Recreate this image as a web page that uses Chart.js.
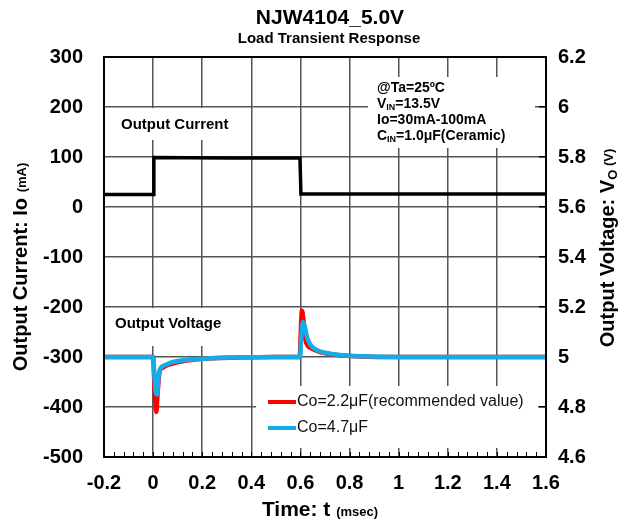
<!DOCTYPE html>
<html>
<head>
<meta charset="utf-8">
<script src="https://cdn.jsdelivr.net/npm/chart.js@4/dist/chart.umd.min.js"></script>
<style>
html, body { margin:0; padding:0; background:#fff; }
#wrap { width:630px; height:526px; }
</style>
</head>
<body>
<div id="wrap"><canvas id="graph1" width="630" height="526"></canvas></div>
<script>
// output current (mA) vs time (msec)
const currentTime = [-0.2, 0.0, 0.003, 0.3, 0.598, 0.602, 1.0, 1.6];
const currentMA = [25, 25, 99, 98, 98, 26, 26, 26];

// output voltage, Co=2.2uF
const redTime = [-0.2, 0.0, 0.004, 0.009, 0.013, 0.018, 0.026, 0.04, 0.06, 0.09, 0.13, 0.18, 0.25, 0.35, 0.5, 0.597, 0.601, 0.606, 0.612, 0.62, 0.63, 0.645, 0.665, 0.7, 0.76, 0.85, 1.0, 1.6];
const redVolt = [5.0, 5.0, 4.92, 4.82, 4.78, 4.85, 4.94, 4.958, 4.968, 4.977, 4.985, 4.991, 4.995, 4.998, 5.0, 5.0, 5.09, 5.185, 5.15, 5.07, 5.045, 5.035, 5.025, 5.015, 5.007, 5.002, 5.0, 5.0];

// output voltage, Co=4.7uF
const blueTime = [-0.2, 0.0, 0.005, 0.011, 0.016, 0.022, 0.03, 0.045, 0.065, 0.09, 0.13, 0.18, 0.25, 0.35, 0.5, 0.598, 0.603, 0.61, 0.618, 0.628, 0.64, 0.655, 0.675, 0.7, 0.76, 0.85, 1.0, 1.6];
const blueVolt = [5.0, 5.0, 4.93, 4.86, 4.85, 4.92, 4.955, 4.966, 4.975, 4.982, 4.988, 4.992, 4.996, 4.998, 5.0, 5.0, 5.07, 5.14, 5.12, 5.075, 5.05, 5.035, 5.024, 5.017, 5.008, 5.003, 5.0, 5.0];

const xTickLabels = ['-0.2', '0', '0.2', '0.4', '0.6', '0.8', '1', '1.2', '1.4', '1.6'];
const yLeftLabels = ['-500', '-400', '-300', '-200', '-100', '0', '100', '200', '300'];
const yRightLabels = ['4.6', '4.8', '5', '5.2', '5.4', '5.6', '5.8', '6', '6.2'];

const legendNames = ['Co=2.2\u03bcF(recommended value)', 'Co=4.7\u03bcF'];
const infoLines = [
  [['@Ta=25\u00baC', 0]],
  [['V', 0], ['IN', 1], ['=13.5V', 0]],
  [['Io=30mA-100mA', 0]],
  [['C', 0], ['IN', 1], ['=1.0\u03bcF(Ceramic)', 0]]
];

const FONT = '"Liberation Sans", Arial, sans-serif';

function pts(xs, ys) {
  return xs.map((x, i) => ({x: x, y: ys[i]}));
}

// draws text made of pieces [text, size, dy]
function richText(ctx, parts, x, y, align) {
  let w = 0;
  parts.forEach(p => { ctx.font = 'bold ' + p[1] + 'px ' + FONT; w += ctx.measureText(p[0]).width; });
  let cx = align === 'center' ? x - w / 2 : x;
  parts.forEach(p => {
    ctx.font = 'bold ' + p[1] + 'px ' + FONT;
    ctx.fillText(p[0], cx, y + (p[2] || 0));
    cx += ctx.measureText(p[0]).width;
  });
}

const decor = {
  id: 'decor',
  beforeDatasetsDraw(chart) {
    const ctx = chart.ctx;
    ctx.save();
    ctx.fillStyle = '#fff';
    // label boxes hiding the grid
    ctx.fillRect(105, 108, 145, 32);
    ctx.fillRect(105, 308, 135, 38);
    ctx.fillRect(368, 77, 167, 71);
    ctx.fillRect(256, 386, 282, 62);

    ctx.fillStyle = '#000';
    ctx.textBaseline = 'middle';
    ctx.textAlign = 'left';
    ctx.font = 'bold 15px ' + FONT;
    ctx.fillText('Output Current', 121, 125);
    ctx.fillText('Output Voltage', 115, 324);

    infoLines.forEach((line, i) => {
      let x = 377;
      const y = 88 + i * 16;
      line.forEach(seg => {
        const sub = seg[1] === 1;
        ctx.font = 'bold ' + (sub ? 9 : 14) + 'px ' + FONT;
        ctx.fillText(seg[0], x, y + (sub ? 4 : 0));
        x += ctx.measureText(seg[0]).width;
      });
    });

    // legend
    const cols = [chart.data.datasets[1].borderColor, chart.data.datasets[0].borderColor];
    legendNames.forEach((name, i) => {
      const y = 402 + i * 26;
      ctx.strokeStyle = cols[i];
      ctx.lineWidth = 4;
      ctx.beginPath();
      ctx.moveTo(268, y);
      ctx.lineTo(296, y);
      ctx.stroke();
      ctx.fillStyle = '#111';
      ctx.font = '16px ' + FONT;
      ctx.fillText(name, 297, y);
    });
    ctx.restore();
  },
  afterDraw(chart) {
    const ctx = chart.ctx;
    const a = chart.chartArea;
    const xs = chart.scales.x;
    ctx.save();
    // minor ticks along the bottom
    ctx.strokeStyle = '#000';
    ctx.lineWidth = 1;
    for (let k = 0; k <= 45; k++) {
      const px = Math.round(xs.getPixelForValue(-0.2 + k * 0.04)) + 0.5;
      ctx.beginPath();
      ctx.moveTo(px, a.bottom);
      ctx.lineTo(px, a.bottom - 5);
      ctx.stroke();
    }
    ctx.lineWidth = 2;
    ctx.strokeRect(a.left, a.top, a.right - a.left, a.bottom - a.top);

    // titles
    ctx.fillStyle = '#000';
    ctx.textBaseline = 'middle';
    richText(ctx, [['NJW4104_5.0V', 21, 0]], 330, 18, 'center');
    richText(ctx, [['Load Transient Response', 15, 0]], 329, 39, 'center');
    richText(ctx, [['Time: t ', 21, 0], ['(msec)', 13, 2]], 320, 510, 'center');

    ctx.translate(21, 267);
    ctx.rotate(-Math.PI / 2);
    richText(ctx, [['Output Current: Io ', 20, 0], ['(mA)', 13, 1]], 0, 0, 'center');
    ctx.setTransform(1, 0, 0, 1, 0, 0);
    ctx.translate(608, 248);
    ctx.rotate(-Math.PI / 2);
    richText(ctx, [['Output Voltage: V', 20, 0], ['O', 13, 5], [' (V)', 13, 1]], 0, 0, 'center');
    ctx.restore();
  }
};

new Chart(document.getElementById('graph1'), {
  type: 'line',
  data: {
    datasets: [
      {
        label: legendNames[1],
        data: pts(blueTime, blueVolt),
        yAxisID: 'yR',
        borderColor: '#12ade8',
        borderWidth: 4.5,
        pointRadius: 0,
        cubicInterpolationMode: 'monotone'
      },
      {
        label: legendNames[0],
        data: pts(redTime, redVolt),
        yAxisID: 'yR',
        borderColor: '#ff0000',
        borderWidth: 4.5,
        pointRadius: 0,
        cubicInterpolationMode: 'monotone'
      },
      {
        label: 'Output Current',
        data: pts(currentTime, currentMA),
        yAxisID: 'y',
        borderColor: '#000',
        borderWidth: 3.5,
        pointRadius: 0,
        tension: 0
      }
    ]
  },
  options: {
    responsive: false,
    animation: false,
    layout: { padding: { top: 57, left: 0, right: 0, bottom: 0 } },
    plugins: { legend: { display: false }, tooltip: { enabled: false } },
    scales: {
      x: {
        type: 'linear',
        min: -0.2, max: 1.6,
        afterFit(s) { s.height = 69; },
        grid: { color: '#555', lineWidth: 1.5, drawTicks: false },
        border: { color: '#000', width: 2 },
        ticks: {
          stepSize: 0.2, padding: 14, color: '#000',
          font: { family: FONT, size: 20, weight: 'bold' },
          maxRotation: 0,
          callback: (v, i) => xTickLabels[i]
        }
      },
      y: {
        position: 'left',
        min: -500, max: 300,
        afterFit(s) { s.width = 104; },
        grid: { color: '#555', lineWidth: 1.5, drawTicks: false },
        border: { color: '#000', width: 2 },
        ticks: {
          stepSize: 100, padding: 21, color: '#000',
          font: { family: FONT, size: 20, weight: 'bold' },
          callback: (v, i) => yLeftLabels[i]
        }
      },
      yR: {
        position: 'right',
        min: 4.6, max: 6.2,
        afterFit(s) { s.width = 84; },
        grid: { drawOnChartArea: false, drawTicks: true, tickLength: -7, color: '#000', lineWidth: 1.5 },
        border: { color: '#000', width: 2 },
        ticks: {
          stepSize: 0.2, padding: 19, color: '#000',
          font: { family: FONT, size: 20, weight: 'bold' },
          callback: (v, i) => yRightLabels[i]
        }
      }
    }
  },
  plugins: [decor]
});
</script>
</body>
</html>
